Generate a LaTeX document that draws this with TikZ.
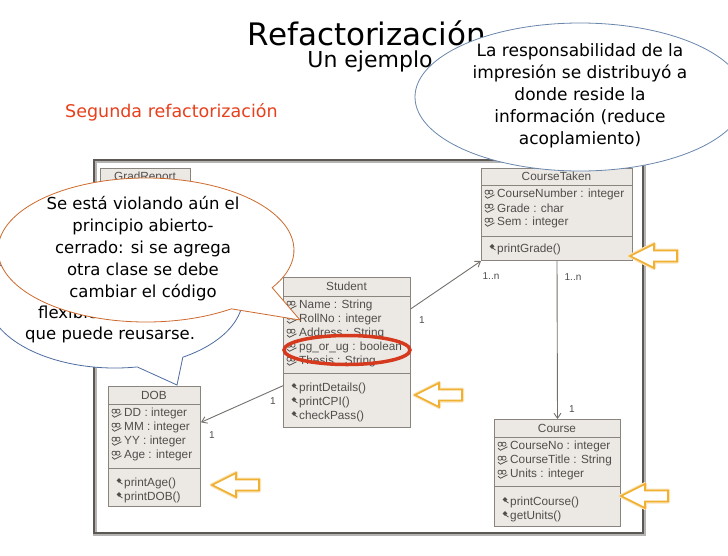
\documentclass[tikz,border=0pt]{standalone}
\usepackage{fontspec}
\setmainfont{DejaVu Sans}
\newfontfamily\umlfamily{Liberation Sans}
\usetikzlibrary{arrows.meta,calc}

\definecolor{umlfill}{RGB}{236,233,229}
\definecolor{umlline}{RGB}{138,132,126}
\definecolor{umltext}{RGB}{80,77,75}
\definecolor{framecol}{RGB}{92,88,84}
\definecolor{subred}{RGB}{232,64,28}
\definecolor{calloutorange}{RGB}{205,105,45}
\definecolor{calloutblue}{RGB}{78,108,160}
\definecolor{noteblue}{RGB}{105,135,172}
\definecolor{markred}{RGB}{214,58,30}
\definecolor{hintgold}{RGB}{240,176,50}

\tikzset{
  classbox/.style={draw=umlline, fill=umlfill, line width=1, inner sep=0},
  classrule/.style={draw=umlline, line width=0.9},
  classtitle/.style={font=\umlfamily\fontsize{11.8}{13}\selectfont, text=umltext, inner sep=0},
  classitem/.style={font=\umlfamily\fontsize{11.8}{13}\selectfont, text=umltext, inner sep=0, anchor=west},
  mult/.style={font=\umlfamily\fontsize{10}{12}\selectfont, text=umltext, inner sep=1},
  assoc/.style={draw=umlline!85!black, line width=0.9, -{Straight Barb[length=5pt,width=7pt]}},
  calloutline/.style={fill=white, line width=0.8},
  callouttext/.style={align=center, inner sep=0, font=\fontsize{16.5}{22}\selectfont},
  attricon/.pic={
    \draw[umltext, line width=0.7] (-3,-1.8) circle (2.1);
    \draw[umltext, line width=0.7] (1,-1.8) circle (2.1);
    \draw[umltext, line width=0.8] (-5,2.2) -- (-2.5,4.2) -- (4.5,0.8);
  },
  methicon/.pic={
    \fill[umltext] (0,-5) -- (2.4,-2.6) -- (0,-0.2) -- (-2.4,-2.6) -- cycle;
    \draw[umltext, line width=0.8] (0.5,-1) -- (3.5,1);
  },
  hintarrow/.pic={
    \draw[hintgold!35, line width=4, line join=round]
      (0,0) -- (24,-12) -- (24,-5.5) -- (47,-5.5) -- (47,5.5) -- (24,5.5) -- (24,12) -- cycle;
    \draw[draw=hintgold, fill=white, line width=1.6, line join=miter]
      (0,0) -- (24,-12) -- (24,-5.5) -- (47,-5.5) -- (47,5.5) -- (24,5.5) -- (24,12) -- cycle;
  }
}

% class box: name, left, top, width, height, header rule y, separator y, title
\newcommand\umlclass[8]{%
  \node[classbox, minimum width=#4pt, minimum height=#5pt, anchor=north west] (#1) at (#2,#3) {};
  \draw[classrule] (#2,#6) -- ({#2+#4},#6);
  \draw[classrule] (#2,#7) -- ({#2+#4},#7);
  \node[classtitle] (#1-name) at ({#2+#4/2},{(#3+#6)/2}) {#8};
}
% attribute rows: box, left, first row y, rows
\newcommand\umlattrs[4]{%
  \begin{scope}
    \clip (#1.north west) rectangle (#1.south east);
    \foreach \row [count=\i from 0] in {#4} {
      \pic at ({#2+9},{#3+14*\i}) {attricon};
      \node[classitem] (#1-attr\i) at ({#2+16},{#3+14*\i}) {\row};
    }
  \end{scope}}
% operation rows: box, left, first row y, rows
\newcommand\umlops[4]{%
  \begin{scope}
    \clip (#1.north west) rectangle (#1.south east);
    \foreach \row [count=\i from 0] in {#4} {
      \pic at ({#2+11},{#3+14*\i}) {methicon};
      \node[classitem] (#1-op\i) at ({#2+16},{#3+14*\i}) {\row};
    }
  \end{scope}}

\begin{document}
\begin{tikzpicture}[x=1pt, y=-1pt]
  \useasboundingbox (0,0) rectangle (728,555);
  \fill[white] (0,0) rectangle (728,555);

  % diagram frame
  \draw[framecol!45, line width=3.2] (95,161) rectangle (644,534);
  \draw[framecol, line width=1.6] (94,160) rectangle (643,533);

  % classes
  \umlclass{gradreport}{100}{168}{90}{172}{186}{300}{GradReport}

  \umlclass{coursetaken}{481}{168}{151}{92}{185}{236}{CourseTaken}
  \umlattrs{coursetaken}{481}{194}{CourseNumber : integer, Grade : char, Sem : integer}
  \umlops{coursetaken}{481}{249}{printGrade()}

  \umlclass{student}{283}{277}{127}{150}{296}{373}{Student}
  \umlattrs{student}{283}{305}{Name : String, RollNo : integer, Address : String, pg\_or\_ug : boolean, Thesis : String}
  \umlops{student}{283}{388}{printDetails(), printCPI(), checkPass()}

  \umlclass{dob}{108}{386}{92}{120}{404}{468}{DOB}
  \umlattrs{dob}{108}{413}{DD : integer, MM : integer, YY : integer, Age : integer}
  \umlops{dob}{108}{483}{printAge(), printDOB()}

  \umlclass{course}{494}{419}{126}{107}{437}{486}{Course}
  \umlattrs{course}{494}{446}{CourseNo : integer, CourseTitle : String, Units : integer}
  \umlops{course}{494}{502}{printCourse(), getUnits()}

  % associations
  \draw[assoc] ($(student.north east)!0.21!(student.south east)$) -- (coursetaken.south west);
  \draw[assoc] (coursetaken.south) -- (course.north);
  \draw[assoc] ($(student.north west)!0.72!(student.south west)$) -- ($(dob.north east)!0.3!(dob.south east)$);

  \node[mult] (m-st-ct) at (422,320) {1};
  \node[mult] (m-ct-st) at (491,276) {1..n};
  \node[mult] (m-ct-co) at (573,277) {1..n};
  \node[mult] (m-co-ct) at (572,409) {1};
  \node[mult] (m-st-do) at (273,401) {1};
  \node[mult] (m-do-st) at (212,435) {1};

  % hint arrows next to the printing operations
  \pic at (630,256) {hintarrow};
  \pic at (415,395) {hintarrow};
  \pic at (212,485) {hintarrow};
  \pic at (621,496) {hintarrow};

  % highlighted attribute
  \draw[markred, line width=3.5] (347,350) ellipse [x radius=63, y radius=14.5];

  % rear callout
  \coordinate (reusec) at (115,297);
  \coordinate (reusetip) at (177,385);
  \draw[calloutline, draw=calloutblue]
    ($(reusec)+(58:128 and 71)$) -- (reusetip) -- ($(reusec)+(80:128 and 71)$)
    arc[start angle=80, end angle=418, x radius=128, y radius=71] -- cycle;
  \node[anchor=base west, inner sep=0, font=\fontsize{16.5}{22}\selectfont] (reuse1) at (38,318) {flexible};
  \node[anchor=base west, inner sep=0, font=\fontsize{16.5}{22}\selectfont] (reuse2) at (25,339) {que puede reusarse.};

  % front callout
  \coordinate (violc) at (146,250);
  \coordinate (violtip) at (300,320);
  \draw[calloutline, draw=calloutorange]
    ($(violc)+(31.5:148 and 72)$) -- (violtip) -- ($(violc)+(54.8:148 and 72)$)
    arc[start angle=54.8, end angle=391.5, x radius=148, y radius=72] -- cycle;
  \node[callouttext] (viol) at (143,249)
    {Se está violando aún el\\principio abierto-\\cerrado: si se agrega\\otra clase se debe\\cambiar el código};

  % headings
  \node[anchor=base, inner sep=0, font=\fontsize{31}{36}\selectfont] (title) at (367,45) {Refactorización};
  \node[anchor=base, inner sep=0, font=\fontsize{22}{26}\selectfont] (subtitle) at (370,67) {Un ejemplo};
  \node[anchor=base west, inner sep=0, text=subred, font=\fontsize{17.5}{21}\selectfont] (step2) at (65,117) {Segunda refactorización};

  % note on the top right
  \draw[calloutline, draw=noteblue] (580,97) ellipse [x radius=165, y radius=74];
  \node[align=center, inner sep=0, font=\fontsize{17}{22}\selectfont] (note) at (580,96)
    {La responsabilidad de la\\impresión se distribuyó a\\donde reside la\\información (reduce\\acoplamiento)};
\end{tikzpicture}
\end{document}
